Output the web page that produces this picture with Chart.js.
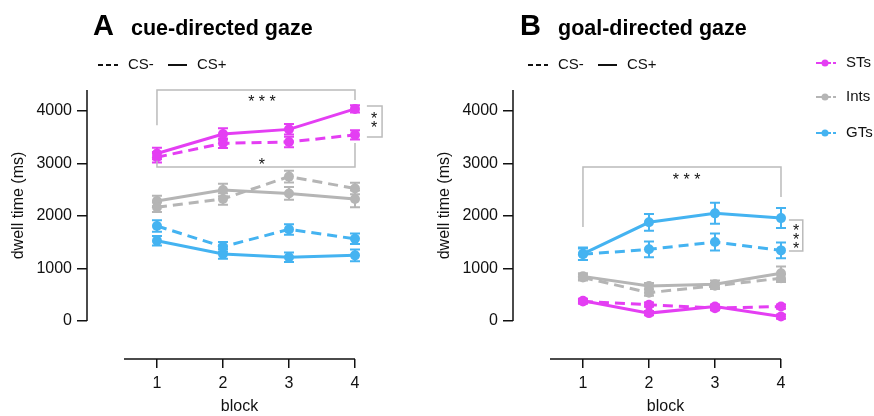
<!DOCTYPE html>
<html>
<head>
<meta charset="utf-8">
<script src="https://cdn.jsdelivr.net/npm/chart.js@4"></script>
<style>
  html, body { margin: 0; padding: 0; background: #fff; }
  #wrap { position: relative; width: 874px; height: 416px; }
  #cueChart { position: absolute; left: 0; top: 0; }
  #goalChart { position: absolute; left: 426px; top: 0; }
</style>
</head>
<body>
<div id="wrap">
  <canvas id="cueChart" width="426" height="416"></canvas>
  <canvas id="goalChart" width="448" height="416"></canvas>
</div>
<script>
const blocks = [1, 2, 3, 4];
const yTicks = [0, 1000, 2000, 3000, 4000];
const groups = ["STs", "Ints", "GTs"];

// cue-directed gaze, dwell time (ms)
const cueSTsPlus = [3190, 3560, 3650, 4040];
const cueSTsMinus = [3120, 3385, 3410, 3545];
const cueIntsPlus = [2285, 2495, 2430, 2325];
const cueIntsMinus = [2165, 2325, 2750, 2525];
const cueGTsPlus = [1530, 1275, 1215, 1250];
const cueGTsMinus = [1810, 1415, 1745, 1565];

const cueSTsPlusErr = [110, 110, 100, 70];
const cueSTsMinusErr = [100, 90, 100, 90];
const cueIntsPlusErr = [100, 120, 120, 160];
const cueIntsMinusErr = [90, 110, 110, 110];
const cueGTsPlusErr = [90, 90, 90, 110];
const cueGTsMinusErr = [110, 90, 100, 100];

// goal-directed gaze, dwell time (ms)
const goalSTsPlus = [385, 150, 275, 85];
const goalSTsMinus = [370, 310, 245, 275];
const goalIntsPlus = [850, 665, 700, 910];
const goalIntsMinus = [830, 540, 670, 815];
const goalGTsPlus = [1280, 1880, 2050, 1960];
const goalGTsMinus = [1270, 1365, 1505, 1345];

const goalSTsPlusErr = [40, 40, 40, 40];
const goalSTsMinusErr = [40, 40, 40, 40];
const goalIntsPlusErr = [60, 60, 70, 130];
const goalIntsMinusErr = [60, 60, 60, 70];
const goalGTsPlusErr = [120, 160, 200, 190];
const goalGTsMinusErr = [110, 150, 160, 150];

const colors = { STs: "#E43EF3", Ints: "#B5B5B5", GTs: "#44B3F1" };
const FONT = "'Liberation Sans', Arial, Helvetica, sans-serif";

function makeDataset(group, values, errors, dashed) {
  return {
    label: group + (dashed ? " CS-" : " CS+"),
    data: blocks.map((b, i) => ({ x: b, y: values[i] })),
    errors: errors,
    borderColor: colors[group],
    backgroundColor: colors[group],
    borderWidth: 3,
    borderDash: dashed ? [10, 6] : [],
    pointRadius: 5,
    pointHoverRadius: 5,
    pointBorderWidth: 0,
    clip: false
  };
}

// error bars under the points, axes, titles, brackets and legends on top
const decor = {
  id: "decor",
  beforeDatasetsDraw(chart) {
    const { ctx, scales: { x, y } } = chart;
    ctx.save();
    ctx.lineWidth = 2;
    chart.data.datasets.forEach(ds => {
      ctx.strokeStyle = ds.borderColor;
      ds.data.forEach((p, i) => {
        const px = x.getPixelForValue(p.x);
        const lo = y.getPixelForValue(p.y - ds.errors[i]);
        const hi = y.getPixelForValue(p.y + ds.errors[i]);
        ctx.beginPath();
        ctx.moveTo(px, lo); ctx.lineTo(px, hi);
        ctx.moveTo(px - 5, lo); ctx.lineTo(px + 5, lo);
        ctx.moveTo(px - 5, hi); ctx.lineTo(px + 5, hi);
        ctx.stroke();
      });
    });
    ctx.restore();
  },
  afterDraw(chart, args, o) {
    const { ctx, scales: { x, y } } = chart;
    ctx.save();

    // axis lines (offset, Prism style)
    ctx.strokeStyle = "#111";
    ctx.lineWidth = 1.5;
    ctx.beginPath();
    ctx.moveTo(chart.chartArea.left, y.getPixelForValue(4400));
    ctx.lineTo(chart.chartArea.left, y.getPixelForValue(0));
    ctx.moveTo(x.getPixelForValue(0.5), chart.chartArea.bottom);
    ctx.lineTo(x.getPixelForValue(4), chart.chartArea.bottom);
    ctx.stroke();

    // axis titles
    ctx.fillStyle = "#111";
    ctx.font = "16px " + FONT;
    ctx.textAlign = "center";
    ctx.textBaseline = "middle";
    ctx.fillText("block", (x.getPixelForValue(0.5) + x.getPixelForValue(4)) / 2, 407);
    ctx.save();
    ctx.translate(19, (y.getPixelForValue(0) + y.getPixelForValue(4400)) / 2);
    ctx.rotate(-Math.PI / 2);
    ctx.fillText("dwell time (ms)", 0, 0);
    ctx.restore();

    // panel title
    ctx.textAlign = "left";
    ctx.textBaseline = "alphabetic";
    ctx.fillStyle = "#000";
    ctx.font = "bold 29px " + FONT;
    ctx.fillText(o.letter, o.titleX, 35);
    ctx.font = "bold 21.5px " + FONT;
    ctx.fillText(o.title, o.titleX + 38, 35);

    // CS- / CS+ legend
    const lx = o.csX;
    ctx.strokeStyle = "#111";
    ctx.lineWidth = 2;
    ctx.setLineDash([5, 3]);
    ctx.beginPath(); ctx.moveTo(lx, 65); ctx.lineTo(lx + 20, 65); ctx.stroke();
    ctx.setLineDash([]);
    ctx.beginPath(); ctx.moveTo(lx + 70, 65); ctx.lineTo(lx + 89, 65); ctx.stroke();
    ctx.font = "15px " + FONT;
    ctx.textBaseline = "middle";
    ctx.fillStyle = "#111";
    ctx.fillText("CS-", lx + 30, 65);
    ctx.fillText("CS+", lx + 99, 65);

    // significance brackets
    ctx.strokeStyle = "#BBBBBB";
    ctx.lineWidth = 1.5;
    (o.brackets || []).forEach(b => {
      ctx.beginPath();
      if (b.side) {
        ctx.moveTo(x.getPixelForValue(b.x1), y.getPixelForValue(b.y1));
        ctx.lineTo(x.getPixelForValue(b.x2), y.getPixelForValue(b.y1));
        ctx.lineTo(x.getPixelForValue(b.x2), y.getPixelForValue(b.y2));
        ctx.lineTo(x.getPixelForValue(b.x1), y.getPixelForValue(b.y2));
      } else {
        ctx.moveTo(x.getPixelForValue(b.x1), y.getPixelForValue(b.yl));
        ctx.lineTo(x.getPixelForValue(b.x1), y.getPixelForValue(b.y));
        ctx.lineTo(x.getPixelForValue(b.x2), y.getPixelForValue(b.y));
        ctx.lineTo(x.getPixelForValue(b.x2), y.getPixelForValue(b.yr));
      }
      ctx.stroke();
    });
    ctx.fillStyle = "#111";
    ctx.font = "16px " + FONT;
    ctx.textAlign = "center";
    ctx.textBaseline = "alphabetic";
    (o.stars || []).forEach(s => {
      ctx.fillText(s.text, x.getPixelForValue(s.x), y.getPixelForValue(s.y) + 9);
    });

    // group legend (right side)
    if (o.groupLegendX) {
      const gx = o.groupLegendX;
      const gy = [63, 97, 133];
      groups.forEach((g, i) => {
        ctx.strokeStyle = colors[g];
        ctx.fillStyle = colors[g];
        ctx.lineWidth = 2;
        ctx.beginPath(); ctx.moveTo(gx, gy[i]); ctx.lineTo(gx + 9, gy[i]); ctx.stroke();
        ctx.setLineDash([3, 2]);
        ctx.beginPath(); ctx.moveTo(gx + 12, gy[i]); ctx.lineTo(gx + 21, gy[i]); ctx.stroke();
        ctx.setLineDash([]);
        ctx.beginPath(); ctx.arc(gx + 9, gy[i], 3.5, 0, Math.PI * 2); ctx.fill();
        ctx.fillStyle = "#111";
        ctx.font = "15px " + FONT;
        ctx.textAlign = "left";
        ctx.textBaseline = "middle";
        ctx.fillText(g, gx + 30, gy[i]);
      });
    }
    ctx.restore();
  }
};

function makeChart(id, datasets, rightPad, decorOpts) {
  return new Chart(document.getElementById(id), {
    type: "line",
    data: { datasets },
    plugins: [decor],
    options: {
      responsive: false,
      devicePixelRatio: 1,
      animation: false,
      layout: { padding: { top: 90, right: rightPad, left: 0, bottom: 0 } },
      plugins: { legend: { display: false }, tooltip: { enabled: false }, decor: decorOpts },
      scales: {
        x: {
          type: "linear",
          min: -0.06,
          max: 4.5,
          afterBuildTicks: s => { s.ticks = blocks.map(v => ({ value: v })); },
          afterFit: s => { s.height = 57; },
          border: { display: false },
          grid: { drawOnChartArea: false, color: "#111", lineWidth: 1.5, tickLength: 9 },
          ticks: { color: "#111", font: { size: 16, family: FONT }, padding: 6, maxRotation: 0 }
        },
        y: {
          min: -724,
          max: 4400,
          afterBuildTicks: s => { s.ticks = yTicks.map(v => ({ value: v })); },
          afterFit: s => { s.width = 87; },
          border: { display: false },
          grid: { drawOnChartArea: false, color: "#111", lineWidth: 1.5, tickLength: 10 },
          ticks: { color: "#111", font: { size: 16, family: FONT }, padding: 5, callback: v => String(v) }
        }
      }
    }
  });
}

makeChart("cueChart", [
  makeDataset("GTs", cueGTsMinus, cueGTsMinusErr, true),
  makeDataset("GTs", cueGTsPlus, cueGTsPlusErr, false),
  makeDataset("Ints", cueIntsMinus, cueIntsMinusErr, true),
  makeDataset("Ints", cueIntsPlus, cueIntsPlusErr, false),
  makeDataset("STs", cueSTsMinus, cueSTsMinusErr, true),
  makeDataset("STs", cueSTsPlus, cueSTsPlusErr, false)
], 38, {
  letter: "A", title: "cue-directed gaze", titleX: 93, csX: 98,
  brackets: [
    { x1: 1, x2: 4, y: 4400, yl: 3730, yr: 4210 },
    { x1: 1, x2: 4, y: 2935, yl: 3050, yr: 3390 },
    { side: true, x1: 4.18, x2: 4.41, y1: 4095, y2: 3505 }
  ],
  stars: [
    { x: 2.59, y: 4250, text: "* * *" },
    { x: 2.59, y: 3050, text: "*" },
    { x: 4.29, y: 3925, text: "*" },
    { x: 4.29, y: 3750, text: "*" }
  ]
});

makeChart("goalChart", [
  makeDataset("STs", goalSTsMinus, goalSTsMinusErr, true),
  makeDataset("STs", goalSTsPlus, goalSTsPlusErr, false),
  makeDataset("Ints", goalIntsMinus, goalIntsMinusErr, true),
  makeDataset("Ints", goalIntsPlus, goalIntsPlusErr, false),
  makeDataset("GTs", goalGTsMinus, goalGTsMinusErr, true),
  makeDataset("GTs", goalGTsPlus, goalGTsPlusErr, false)
], 60, {
  letter: "B", title: "goal-directed gaze", titleX: 94, csX: 102, groupLegendX: 390,
  brackets: [
    { x1: 1, x2: 4, y: 2935, yl: 1790, yr: 2360 },
    { side: true, x1: 4.12, x2: 4.33, y1: 1925, y2: 1335 }
  ],
  stars: [
    { x: 2.57, y: 2760, text: "* * *" },
    { x: 4.23, y: 1790, text: "*" },
    { x: 4.23, y: 1620, text: "*" },
    { x: 4.23, y: 1450, text: "*" }
  ]
});
</script>
</body>
</html>
